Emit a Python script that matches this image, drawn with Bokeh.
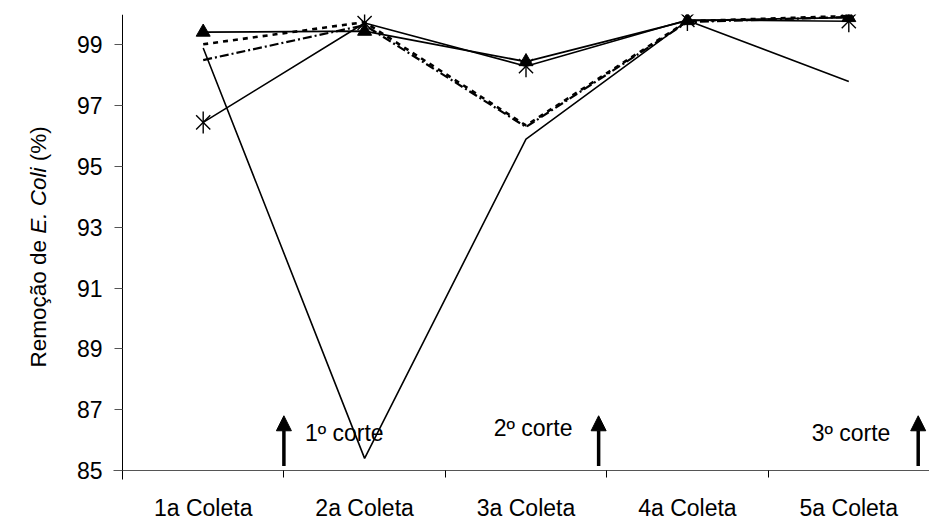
import math
from bokeh.plotting import figure
from bokeh.models import Range1d, FixedTicker, Arrow, NormalHead, Label, ColumnDataSource
from bokeh.embed import file_html
from bokeh.resources import INLINE

categories = ["1a Coleta", "2a Coleta", "3a Coleta", "4a Coleta", "5a Coleta"]
s_triangle = [99.42, 99.45, 98.45, 99.8, 99.9]
s_dotted = [99.02, 99.75, 96.35, 99.78, 99.95]
s_dashdot = [98.5, 99.65, 96.3, 99.75, 99.92]
s_plain = [98.9, 85.4, 95.9, 99.8, 97.8]
s_asterisk = [96.45, 99.72, 98.3, 99.82, 99.78]
y_ticks = [85, 87, 89, 91, 93, 95, 97, 99]
cut_labels = ["1º corte", "2º corte", "3º corte"]
cut_x = [1.0, 2.95, 4.93]
cut_label_x = [1.13, 2.3, 4.27]
cut_label_y = [86.25, 86.41, 86.22]

xs = [i + 0.5 for i in range(len(categories))]
src = ColumnDataSource(dict(x=xs, tri=s_triangle, dot=s_dotted, dd=s_dashdot,
                            plain=s_plain, ast=s_asterisk))

FONT = "Liberation Sans"
W, H = 929, 523
LEFT = 122          # pixel position of the y axis
FRAME_TOP, AXIS_Y = 14, 470
ppu_x = (W - LEFT) / 5.0
ppu_y = (AXIS_Y - FRAME_TOP) / 15.0
x_start = -LEFT / ppu_x
y_start = 85 - (H - AXIS_Y) / ppu_y
ext_x = 9 / ppu_x
ext_y = 9 / ppu_y

p = figure(width=W, height=H, output_backend="svg", toolbar_location=None,
           x_range=Range1d(x_start, 5), y_range=Range1d(y_start, 100),
           min_border_left=0, min_border_right=0, min_border_top=FRAME_TOP,
           min_border_bottom=0)
p.outline_line_color = None
p.xgrid.visible = False
p.ygrid.visible = False
p.background_fill_color = "white"

# x axis at y = 85: labels at centers, ticks at boundaries
p.xaxis.fixed_location = 85
p.xaxis.ticker = FixedTicker(ticks=xs, minor_ticks=list(range(1, len(categories) + 1)))
p.xaxis.major_label_overrides = {x: c for x, c in zip(xs, categories)}
p.xaxis.bounds = (-ext_x, 5)
p.xaxis.major_tick_out = 0
p.xaxis.major_tick_in = 0
p.xaxis.minor_tick_out = 7
p.xaxis.minor_tick_in = 0
p.xaxis.minor_tick_line_color = "black"
p.xaxis.axis_line_color = "#555555"
p.xaxis.major_label_standoff = 17
p.xaxis.major_label_text_font = FONT
p.xaxis.major_label_text_font_size = "23px"
p.xaxis.major_label_text_color = "black"

# y axis at x = 0
p.yaxis.fixed_location = 0
p.yaxis.bounds = (85 - ext_y, 100)
p.yaxis.ticker = FixedTicker(ticks=y_ticks, minor_ticks=[])
p.yaxis.major_tick_out = 8
p.yaxis.major_tick_in = 0
p.yaxis.major_tick_line_color = "#555555"
p.yaxis.axis_line_color = "black"
p.yaxis.major_label_standoff = 12
p.yaxis.major_label_text_font = FONT
p.yaxis.major_label_text_font_size = "23px"
p.yaxis.major_label_text_color = "black"

# series
p.line("x", "plain", source=src, line_color="black", line_width=1.6)
p.line("x", "dd", source=src, line_color="black", line_width=2.2, line_dash="9 3 2 3")
p.line("x", "dot", source=src, line_color="black", line_width=2.6, line_dash="5 5")
p.line("x", "ast", source=src, line_color="black", line_width=1.6)
p.line("x", "tri", source=src, line_color="black", line_width=1.8)
p.scatter("x", "tri", source=src, marker="triangle", size=14, fill_color="black", line_color="black")
p.scatter("x", "ast", source=src, marker="x", size=20, line_color="black", line_width=1.4)
p.scatter("x", "ast", source=src, marker="dash", angle=math.pi / 2, size=22, line_color="black", line_width=1.4)

# arrows and labels for cuts
for cx in cut_x:
    p.add_layout(Arrow(end=NormalHead(size=15, fill_color="black", line_color="black"),
                       x_start=cx, y_start=85.15, x_end=cx, y_end=86.8,
                       line_color="black", line_width=3.5))
for t, lx, ly in zip(cut_labels, cut_label_x, cut_label_y):
    p.add_layout(Label(x=lx, y=ly, text=t, text_font=FONT, text_font_size="23px",
                       text_color="black", text_baseline="alphabetic", text_align="left"))

# y-axis title in three parts (italic E. Coli)
fs = 22.5
w1 = 5947 / 1000 * fs  # "Remoção de "
w2 = 2945 / 1000 * fs  # "E. Coli"
wsp = 278 / 1000 * fs  # space
y0 = 85 + (AXIS_Y - 367) / ppu_y
xl = (38 - LEFT) / ppu_x
parts = [("Remoção de", "normal", y0),
         ("E. Coli", "italic", y0 + w1 / ppu_y),
         ("(%)", "normal", y0 + (w1 + w2 + wsp) / ppu_y)]
for t, st, yy in parts:
    p.add_layout(Label(x=xl, y=yy, text=t, angle=math.pi / 2, text_font=FONT,
                       text_font_size=f"{fs}px", text_font_style=st, text_color="black",
                       text_align="left", text_baseline="middle"))

open("out.html", "w").write(file_html(p, INLINE))
